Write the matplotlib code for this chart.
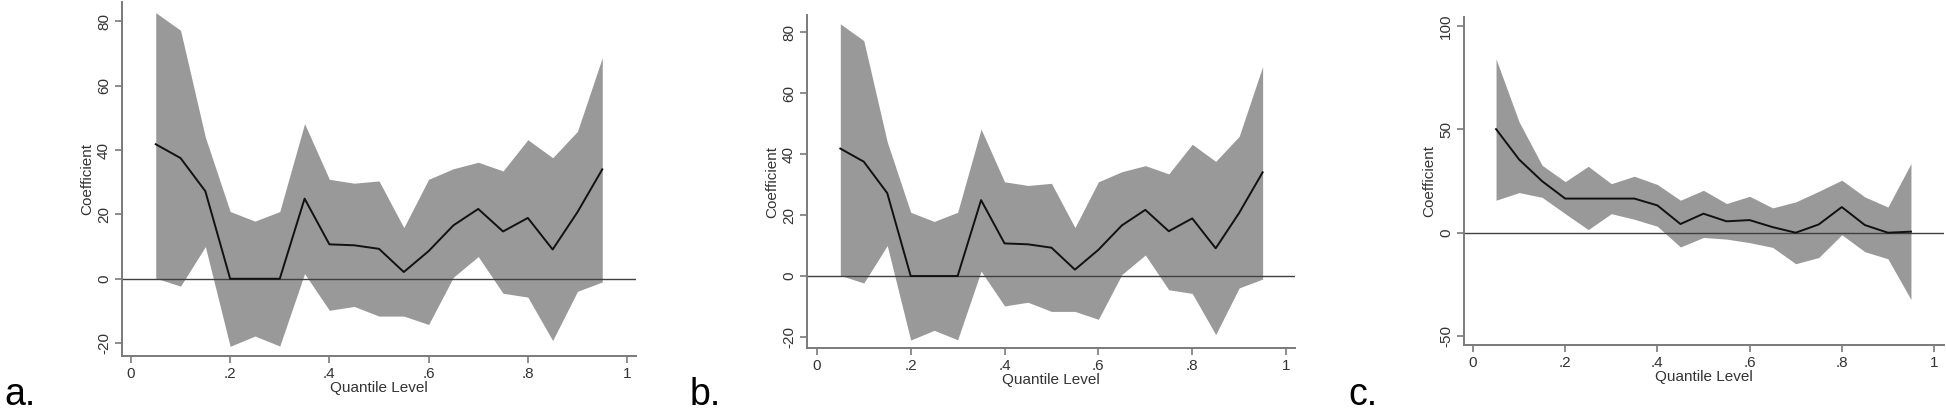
import matplotlib
matplotlib.use("Agg")
import matplotlib.pyplot as plt
import numpy as np

plt.rcParams["font.family"] = ["Liberation Sans Narrow", "Liberation Sans", "DejaVu Sans"]

# Quantile levels shared by all panels.
quantiles = [0.05, 0.10, 0.15, 0.20, 0.25, 0.30, 0.35, 0.40, 0.45, 0.50,
             0.55, 0.60, 0.65, 0.70, 0.75, 0.80, 0.85, 0.90, 0.95]

# Panels a and b (same estimates).
coef_ab = [41.8, 37.5, 27.2, 0.0, 0.0, 0.0, 24.9, 10.7, 10.4, 9.3,
           2.1, 8.6, 16.6, 21.7, 14.7, 18.9, 9.1, 20.7, 34.0]
upper_ab = [82.7, 77.2, 44.0, 20.9, 17.9, 20.9, 48.2, 30.9, 29.7, 30.4,
            15.9, 30.9, 34.2, 36.2, 33.5, 43.2, 37.6, 45.8, 68.7]
lower_ab = [0.2, -2.3, 10.0, -21.0, -17.8, -20.9, 1.6, -9.8, -8.6, -11.6,
            -11.6, -14.2, 0.5, 6.9, -4.5, -5.7, -19.2, -3.9, -1.0]

# Panel c.
coef_c = [50.1, 35.4, 24.9, 16.5, 16.5, 16.5, 16.5, 13.2, 4.2, 9.2,
          5.5, 6.1, 2.7, 0.0, 4.0, 12.4, 3.7, 0.0, 0.5]
upper_c = [84.0, 53.6, 32.6, 24.7, 32.1, 23.7, 27.3, 23.3, 15.7, 20.5,
           14.1, 17.6, 12.0, 14.9, 20.0, 25.4, 17.3, 12.4, 33.4]
lower_c = [15.7, 19.4, 17.1, 9.2, 1.5, 9.2, 6.5, 3.1, -6.9, -2.3,
           -3.1, -4.8, -7.1, -15.0, -12.0, -1.0, -9.2, -12.6, -32.3]

x_ticks = [0, 0.2, 0.4, 0.6, 0.8, 1.0]
x_tick_labels = ["0", ".2", ".4", ".6", ".8", "1"]

W, H = 1946, 418
AXIS_GREY = "#7a7a7a"


def draw_panel(rect, coef, lower, upper, xlim, ylim, yticks, letter, letter_x):
    left, top, right, bottom = rect
    ax = fig.add_axes([left / W, 1 - bottom / H, (right - left) / W, (bottom - top) / H])

    ax.fill_between(quantiles, lower, upper, color="#999999", linewidth=0)
    ax.axhline(0, color="#404040", linewidth=1.0)
    ax.plot(quantiles, coef, color="#111111", linewidth=1.4)

    ax.set_xlim(*xlim)
    ax.set_ylim(*ylim)
    ax.set_xticks(x_ticks)
    ax.set_xticklabels(x_tick_labels)
    ax.set_yticks(yticks)
    ax.set_yticklabels([str(t) for t in yticks], rotation=90, va="center")

    for side in ("top", "right"):
        ax.spines[side].set_visible(False)
    for side in ("left", "bottom"):
        ax.spines[side].set_color(AXIS_GREY)
        ax.spines[side].set_linewidth(1.4)
    ax.tick_params(direction="out", length=5, width=1.2, color=AXIS_GREY,
                   labelsize=11, pad=3, labelcolor="#333333")

    ax.set_xlabel("Quantile Level", fontsize=11, labelpad=0, color="#333333")
    ax.set_ylabel("Coefficient", fontsize=11, labelpad=2, color="#333333")

    fig.text(letter_x / W, 0.012, letter, fontsize=27, ha="left", va="bottom",
             family=["Liberation Sans", "DejaVu Sans"])


fig = plt.figure(figsize=(W / 100, H / 100), dpi=100)

draw_panel((122, 2, 636, 356), coef_ab, lower_ab, upper_ab,
           (-0.018, 1.018), (-24, 86), [-20, 0, 20, 40, 60, 80], "a.", 4)
draw_panel((807, 15, 1295, 348), coef_ab, lower_ab, upper_ab,
           (-0.021, 1.019), (-23.6, 85.6), [-20, 0, 20, 40, 60, 80], "b.", 690)
draw_panel((1464, 17, 1944, 345), coef_c, lower_c, upper_c,
           (-0.0195, 1.0217), (-54.3, 104.3), [-50, 0, 50, 100], "c.", 1348)

fig.savefig("out.png", dpi=100)
